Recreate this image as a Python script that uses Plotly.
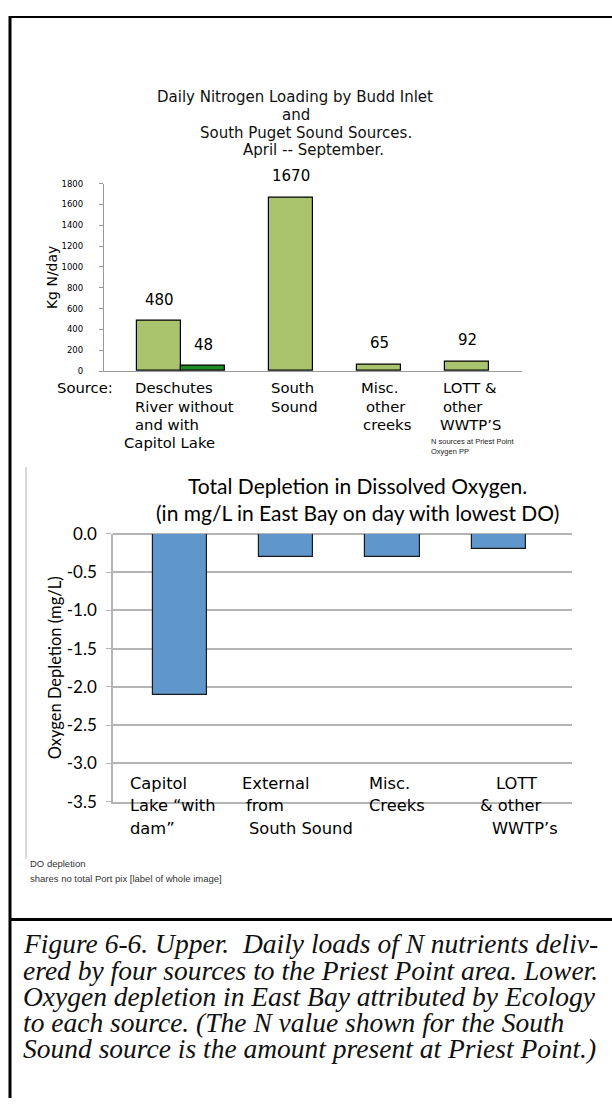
import plotly.graph_objects as go

# ---------------- data ----------------
n_sources = ["Deschutes without Capitol Lake", "Deschutes with Capitol Lake",
             "South Sound", "Misc. other creeks", "LOTT & other WWTP'S"]
n_load = [480, 48, 1670, 65, 92]

do_sources = ["Capitol Lake \u201cwith dam\u201d", "External from South Sound",
              "Misc. Creeks", "LOTT & other WWTP\u2019s"]
do_depletion = [-2.1, -0.3, -0.3, -0.2]

n_ticks = list(range(0, 1801, 200))
do_ticks = [0.0, -0.5, -1.0, -1.5, -2.0, -2.5, -3.0, -3.5]
do_ticktext = ["%.1f" % t for t in do_ticks]

# ---------------- layout helpers ----------------
W, H = 612, 1108
def X(px): return px / W
def Y(py): return 1 - py / H

slots = [0, 1, 3, 5, 7]          # horizontal slots of the upper bars
n_colors = ["#A9C46C", "#1E8C24", "#A9C46C", "#A9C46C", "#A9C46C"]

fig = go.Figure()
fig.add_trace(go.Bar(x=slots, y=n_load, width=1.0, marker=dict(color=n_colors,
              line=dict(color="black", width=1.2)), xaxis="x", yaxis="y",
              hoverinfo="skip", showlegend=False))
fig.add_trace(go.Bar(x=do_sources, y=do_depletion, width=0.51,
              marker=dict(color="#5F97CD", line=dict(color="#1a1a1a", width=1.2)),
              xaxis="x2", yaxis="y2", hoverinfo="skip", showlegend=False))

ann = []
def txt(x, y, s, size, family="DejaVu Sans", xanchor="left", color="black", yanchor="middle"):
    ann.append(dict(x=X(x), y=Y(y), xref="paper", yref="paper", text=s, showarrow=False,
                    xanchor=xanchor, yanchor=yanchor,
                    font=dict(size=size, family=family, color=color)))

# upper title
ft = 15
txt(295, 88, "Daily Nitrogen Loading by Budd Inlet", ft, xanchor="center", color="#111")
txt(296, 106, "and", ft, xanchor="center", color="#111")
txt(306, 124, "South Puget Sound Sources.", ft, xanchor="center", color="#111")
txt(313, 142, "April -- September.", ft, xanchor="center", color="#111")

# value labels on upper bars
for s, v in zip(slots, n_load):
    ann.append(dict(x=s, y=v, xref="x", yref="y", text=str(v), showarrow=False,
                    yanchor="bottom", yshift=10, font=dict(size=15, family="DejaVu Sans", color="black")))

# upper category labels
fs = 14.8
txt(55, 384, "Source:", fs)
txt(133, 384, "Deschutes", fs)
txt(133, 403, "River without", fs)
txt(133, 421, "and with", fs)
txt(122, 440, "Capitol Lake", fs)
txt(269, 384, "South", fs)
txt(269, 403, "Sound", fs)
txt(359, 384, "Misc.", fs)
txt(364, 403, "other", fs)
txt(361, 421, "creeks", fs)
txt(441, 384, "LOTT &", fs)
txt(441, 403, "other", fs)
txt(438, 421, "WWTP\u2019S", fs)
txt(429, 439, "N sources at Priest Point", 7.5, family="Liberation Sans", color="#222")
txt(429, 449, "Oxygen PP", 7.5, family="Liberation Sans", color="#222")

# lower title
txt(357, 484, "Total Depletion in Dissolved Oxygen.", 21, family="Lato", xanchor="center")
txt(357, 511, "(in mg/L in East Bay on day with lowest DO)", 21, family="Lato", xanchor="center")

# lower category labels
fl = 16.3
txt(128, 787, "Capitol", fl)
txt(128, 810, "Lake \u201cwith", fl)
txt(128, 833, "dam\u201d", fl)
txt(240, 787, "External", fl)
txt(244, 810, "from", fl)
txt(247, 833, "South Sound", fl)
txt(367, 787, "Misc.", fl)
txt(367, 810, "Creeks", fl)
txt(494, 787, "LOTT", fl)
txt(478, 810, "& other", fl)
txt(490, 833, "WWTP\u2019s", fl)

txt(28, 869, "DO depletion", 9.5, family="Liberation Sans", color="#333")
txt(28, 884, "shares no total Port pix [label of whole image]", 9.5, family="Liberation Sans", color="#333")

# caption
cap = ["Figure 6-6. Upper.  Daily loads of N nutrients deliv-",
       "ered by four sources to the Priest Point area. Lower.",
       "Oxygen depletion in East Bay attributed by Ecology",
       "to each source. (The N value shown for the South",
       "Sound source is the amount present at Priest Point.)"]
for i, line in enumerate(cap):
    txt(21, 951 + i * 26.7, "<i>" + line.replace("  ", " &nbsp;") + "</i>", 27.5,
        family="Liberation Serif", color="#111")

shapes = [
    dict(type="line", xref="paper", yref="paper", x0=X(9), x1=X(612), y0=Y(6), y1=Y(6),
         line=dict(color="black", width=2)),
    dict(type="line", xref="paper", yref="paper", x0=X(10), x1=X(10), y0=Y(5), y1=Y(1108),
         line=dict(color="black", width=3)),
    dict(type="line", xref="paper", yref="paper", x0=X(10), x1=X(612), y0=Y(926), y1=Y(926),
         line=dict(color="black", width=3)),
    dict(type="line", xref="paper", yref="paper", x0=X(26), x1=X(26), y0=Y(465), y1=Y(864),
         line=dict(color="#B0B0B0", width=1)),
]

fig.update_layout(
    width=W, height=H, margin=dict(l=0, r=0, t=0, b=0),
    paper_bgcolor="white", plot_bgcolor="white",
    annotations=ann, shapes=shapes, bargap=0,
    xaxis=dict(domain=[X(104), X(522)], range=[-1.26, 8.24], showline=True,
               linecolor="#9A9A9A", linewidth=1.3, showticklabels=False, ticks="",
               showgrid=False, zeroline=False, anchor="y"),
    yaxis=dict(domain=[Y(367), Y(176)], range=[0, 1800], tickvals=n_ticks,
               showline=True, linecolor="#9A9A9A", linewidth=1.3, ticks="outside",
               ticklen=4, tickcolor="#9A9A9A", showgrid=False, zeroline=False,
               tickfont=dict(size=8.5, family="DejaVu Sans", color="black"),
               ticklabelstandoff=14, anchor="x",
               title=dict(text="Kg N/day", font=dict(size=14, family="DejaVu Sans", color="black"),
                          standoff=0)),
    xaxis2=dict(domain=[X(113), X(572)], range=[-0.63, 3.69], showticklabels=False,
                ticks="", showgrid=False, zeroline=False, showline=True,
                linecolor="#B4B4B4", linewidth=1.5, anchor="y2"),
    yaxis2=dict(domain=[Y(806), Y(533)], range=[-3.5, 0], tickvals=do_ticks,
                ticktext=do_ticktext,
                showgrid=True, gridcolor="#B4B4B4", gridwidth=1.5, zeroline=True,
                zerolinecolor="#B4B4B4", zerolinewidth=1.5, showline=True,
                linecolor="#B4B4B4", linewidth=1.5, ticks="outside", ticklen=5,
                tickcolor="#B4B4B4", ticklabelstandoff=6, anchor="x2",
                tickfont=dict(size=17, family="Lato", color="black"),
                title=dict(text="Oxygen Depletion (mg/L)",
                           font=dict(size=16.5, family="Lato", color="black"), standoff=1)),
)

post = ("var gd=document.getElementById('{plot_id}');"
        "gd.style.position='absolute';gd.style.left='0px';gd.style.top='0px';"
        "document.body.style.margin='0';document.body.style.overflow='hidden';")
fig.write_html("out.html", config={"displayModeBar": False}, post_script=post)
